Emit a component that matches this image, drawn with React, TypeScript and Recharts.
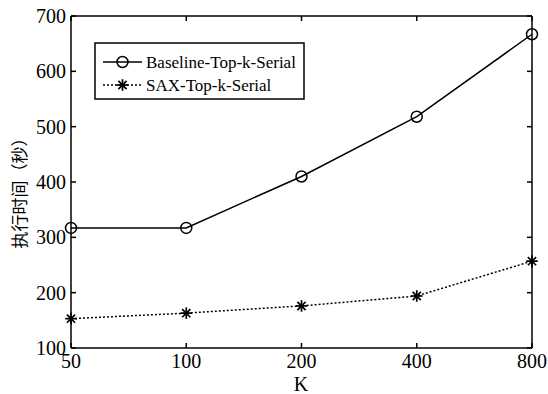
import React from 'react';
import { LineChart, Line, XAxis, YAxis, Customized } from 'recharts';

const categories = ['50', '100', '200', '400', '800'];
const baseline = [317, 317, 410, 518, 667];
const sax = [153, 163, 176, 194, 257];
const yTicks = [100, 200, 300, 400, 500, 600, 700];
const seriesNames = ['Baseline-Top-k-Serial', 'SAX-Top-k-Serial'];
const yLabel = '执行时间（秒）';
const xLabel = 'K';

const data = categories.map((k, i) => ({ k, baseline: baseline[i], sax: sax[i] }));

const FONT = '"Liberation Serif", "Times New Roman", serif';

const CircleDot = (props: any) => {
  const { cx, cy } = props;
  if (cx == null || cy == null) return null;
  return <circle cx={cx} cy={cy} r={5.5} fill="none" stroke="#000" strokeWidth={1.5} />;
};

const StarDot = (props: any) => {
  const { cx, cy } = props;
  if (cx == null || cy == null) return null;
  const r = 5.8;
  const d = r * 0.707;
  return (
    <g stroke="#000" strokeWidth={1.7}>
      <line x1={cx - r} y1={cy} x2={cx + r} y2={cy} />
      <line x1={cx} y1={cy - r} x2={cx} y2={cy + r} />
      <line x1={cx - d} y1={cy - d} x2={cx + d} y2={cy + d} />
      <line x1={cx - d} y1={cy + d} x2={cx + d} y2={cy - d} />
    </g>
  );
};

const EmptyTick = () => <g />;

const Overlay = () => {
  const lx = 95;
  const ly = 43;
  return (
    <g>
      <rect x={lx} y={ly} width={209} height={56} fill="#fff" stroke="#000" strokeWidth={1.5} />
      <line x1={lx + 8} y1={ly + 19} x2={lx + 47} y2={ly + 19} stroke="#000" strokeWidth={1.5} />
      <circle cx={lx + 27.5} cy={ly + 19} r={5.5} fill="none" stroke="#000" strokeWidth={1.5} />
      <text x={lx + 51} y={ly + 19} dominantBaseline="central" fontFamily={FONT} fontSize={17} fill="#000">
        {seriesNames[0]}
      </text>
      <line x1={lx + 8} y1={ly + 42} x2={lx + 47} y2={ly + 42} stroke="#000" strokeWidth={1.5} strokeDasharray="2 2" />
      <StarDot cx={lx + 27.5} cy={ly + 42} />
      <text x={lx + 51} y={ly + 42} dominantBaseline="central" fontFamily={FONT} fontSize={17} fill="#000">
        {seriesNames[1]}
      </text>
      <text
        x={18}
        y={189}
        transform="rotate(-90 18 189)"
        textAnchor="middle"
        dominantBaseline="central"
        fontFamily='"Noto Sans CJK SC", sans-serif'
        fontSize={17}
        fill="#000"
      >
        {yLabel}
      </text>
      <text x={301} y={384} textAnchor="middle" dominantBaseline="central" fontFamily={FONT} fontSize={20} fill="#000">
        {xLabel}
      </text>
    </g>
  );
};

export default function App() {
  const tickStyle = { fill: '#000', fontFamily: FONT, fontSize: 20 };
  return (
    <div style={{ position: 'absolute', left: 0, top: 0, background: '#fff' }}>
      <LineChart width={548} height={394} data={data} margin={{ top: 15, right: 15, bottom: 16, left: 0 }}>
        <XAxis
          dataKey="k"
          xAxisId="b"
          type="category"
          interval={0}
          height={30}
          padding={{ left: 0, right: 0 }}
          stroke="#000"
          strokeWidth={1.5}
          tickSize={-5}
          tickMargin={11}
          tick={tickStyle}
        />
        <XAxis
          dataKey="k"
          xAxisId="t"
          orientation="top"
          type="category"
          interval={0}
          height={1}
          stroke="#000"
          strokeWidth={1.5}
          tickSize={-5}
          tick={EmptyTick}
        />
        <YAxis
          yAxisId="l"
          domain={[100, 700]}
          ticks={yTicks}
          width={71}
          stroke="#000"
          strokeWidth={1.5}
          tickSize={-5}
          tickMargin={10}
          tick={tickStyle}
          allowDataOverflow
        />
        <YAxis
          yAxisId="r"
          orientation="right"
          domain={[100, 700]}
          ticks={yTicks}
          width={1}
          stroke="#000"
          strokeWidth={1.5}
          tickSize={-5}
          tick={EmptyTick}
          allowDataOverflow
        />
        <Line
          xAxisId="b"
          yAxisId="l"
          type="linear"
          dataKey="baseline"
          name={seriesNames[0]}
          stroke="#000"
          strokeWidth={1.5}
          dot={<CircleDot />}
          isAnimationActive={false}
        />
        <Line
          xAxisId="b"
          yAxisId="l"
          type="linear"
          dataKey="sax"
          name={seriesNames[1]}
          stroke="#000"
          strokeWidth={1.5}
          strokeDasharray="2 2"
          dot={<StarDot />}
          isAnimationActive={false}
        />
        <Customized component={Overlay} />
      </LineChart>
    </div>
  );
}
